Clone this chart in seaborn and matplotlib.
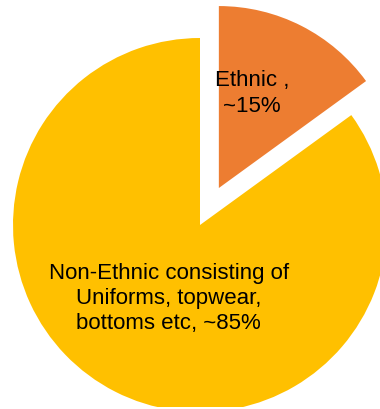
import matplotlib
matplotlib.use("Agg")
import matplotlib.pyplot as plt
import seaborn as sns
import numpy as np

categories = ["Ethnic", "Non-Ethnic"]
values = [15, 85]
label_texts = ["Ethnic ,\n~15%", "Non-Ethnic consisting of\nUniforms, topwear,\nbottoms etc, ~85%"]
colors = ["#ED7D31", "#FFC000"]

sns.set_style("white")
plt.rcParams['font.family'] = ['Liberation Sans', 'DejaVu Sans']

W, H = 380, 410
fig = plt.figure(figsize=(W / 100, H / 100), dpi=100)
bottom_px = 2.5
ax = fig.add_axes([0, bottom_px / H, 1, (H - bottom_px) / H])
wedges, _ = ax.pie(values, colors=colors, startangle=90, counterclock=False,
                   explode=[0.222, 0], radius=1.0, center=(0, 0),
                   wedgeprops=dict(linewidth=0))
wedges[0].set_radius(0.973)
scale = 187.0
cx, cy = 200.0, 226.0
ax.set_xlim(-cx / scale, (W - cx) / scale)
ax.set_ylim(-(H - bottom_px - cy) / scale, cy / scale)
ax.set_aspect('equal')
ax.axis('off')
for w in wedges:
    w.set_clip_on(True)

# anchored at the baseline of the last line of each label
label_pos = [(0.278, 0.610), (-0.167, -0.551)]
spacings = [1.32, 1.25]
for txt, (x, y), ls in zip(label_texts, label_pos, spacings):
    ax.text(x, y, txt, ha='center', va='baseline', fontsize=16,
            color='black', linespacing=ls, multialignment='center')

fig.savefig("out.png", dpi=100)
